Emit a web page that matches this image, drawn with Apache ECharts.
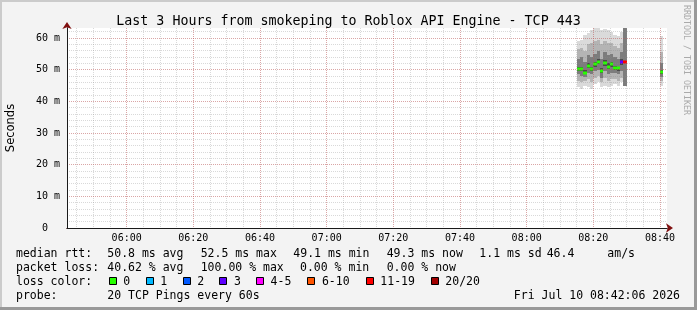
<!DOCTYPE html>
<html><head><meta charset="utf-8">
<script src="https://cdn.jsdelivr.net/npm/echarts@6/dist/echarts.min.js"></script>
<style>html,body{margin:0;padding:0;background:#f3f3f3}#c{width:697px;height:310px}</style>
</head><body><div id="c"></div>
<script>
// ---------- data (minutes of the day, milliseconds) ----------
const startMinute = 342.1;   // 05:42:06
const endMinute = 522.1;     // 08:42:06
const xTickLabels = ['06:00','06:20','06:40','07:00','07:20','07:40','08:00','08:20','08:40'];
const xFirstTick = 360;
const yMax = 63.16;
const yTickLabels = ['0\u00a0\u00a0','10 m','20 m','30 m','40 m','50 m','60 m'];

// one 60 s step each, start minute of the step
const sampleStart = [495,496,497,498,499,500,501,502,503,504,505,506,507,508,509,510,511,512,513,514,515,516,517,518,519,520];
const median   = [50.3,50.3,49.1,51.2,50.3,51.8,52.5,49.7,52.0,51.0,51.7,50.4,50.4,52.5,52.5,null,null,null,null,null,null,null,null,null,null,49.3];
const lossCount= [0,0,0,0,0,0,0,0,0,0,0,0,0,3,15,20,20,20,20,20,20,20,20,20,20,0];
const pingMin  = [44.5,44.0,45.0,44.5,44.0,45.5,46.0,44.5,45.0,44.5,45.0,45.5,45.0,46.0,45.0,null,null,null,null,null,null,null,null,null,null,45.0];
const ping10   = [46.5,46.0,46.5,47.0,46.0,47.5,48.0,46.0,47.5,46.5,47.0,47.0,46.5,47.5,45.0,null,null,null,null,null,null,null,null,null,null,46.5];
const ping25   = [48.5,48.0,47.8,49.0,48.5,49.5,50.0,47.5,49.5,48.5,49.0,48.8,48.5,49.5,45.0,null,null,null,null,null,null,null,null,null,null,47.8];
const ping40   = [49.7,49.6,48.6,50.5,49.6,51.0,51.8,48.8,51.2,50.2,50.8,49.8,49.6,51.5,null,null,null,null,null,null,null,null,null,null,null,48.7];
const ping60   = [51.0,51.0,49.8,52.0,51.0,52.5,53.5,50.5,53.0,52.0,52.5,51.2,51.0,53.5,null,null,null,null,null,null,null,null,null,null,null,50.0];
const ping75   = [53.5,54.0,52.5,54.5,54.0,55.0,56.0,53.5,55.5,54.5,55.0,54.0,53.5,55.5,70.0,null,null,null,null,null,null,null,null,null,null,52.0];
const ping90   = [56.5,57.0,56.0,58.0,58.5,59.0,59.5,58.0,59.0,58.5,58.5,57.5,57.0,58.5,70.0,null,null,null,null,null,null,null,null,null,null,55.5];
const pingMax  = [59.0,59.5,61.0,61.5,62.5,64.0,63.5,62.5,63.0,62.5,62.0,61.0,60.5,62.0,70.0,null,null,null,null,null,null,null,null,null,null,60.5];

// legend texts
const rowLabels = ['median rtt:','packet loss:','loss color:','probe:'];
const rttStats = ['50.8 ms avg','52.5 ms max','49.1 ms min','49.3 ms now','1.1 ms sd','46.4','am/s'];
const lossStats = ['40.62 % avg','100.00 % max','0.00 % min','0.00 % now'];
const lossNames = ['0','1','2','3','4-5','6-10','11-19','20/20'];
const lossUpper = [0,1,2,3,5,10,19,20];
const lossColors = ['#26ff00','#00b8ff','#0059ff','#5e00ff','#ff00ff','#ff5500','#ff0000','#a10000'];
const probeText = '20 TCP Pings every 60s';
const stampText = 'Fri Jul 10 08:42:06 2026';
const titleText = 'Last 3 Hours from smokeping to Roblox API Engine - TCP 443';

// ---------- chart ----------
function lossColor(n){ for (let i=0;i<lossUpper.length;i++) if (n<=lossUpper[i]) return lossColors[i]; return lossColors[lossColors.length-1]; }
const smokeColors = ['#dadada','#b4b4b4','#7c7c7c','#4a4a4a'];
const rows = sampleStart.map((t,i)=>[t,pingMin[i],ping10[i],ping25[i],ping40[i],ping60[i],ping75[i],ping90[i],pingMax[i],median[i],lossCount[i]]);

const MONO = 'DejaVu Sans Mono';
const FS = 11.5;
const gridMinor = 'rgba(140,140,140,0.33)';
const gridMajor = 'rgba(220,60,60,0.32)';

const graphics = [];
graphics.push({type:'rect',shape:{x:0,y:0,width:697,height:2},style:{fill:'#cbcbcb'},silent:true});
graphics.push({type:'rect',shape:{x:0,y:0,width:2,height:310},style:{fill:'#cbcbcb'},silent:true});
graphics.push({type:'rect',shape:{x:694,y:0,width:3,height:310},style:{fill:'#999999'},silent:true});
graphics.push({type:'rect',shape:{x:0,y:307,width:697,height:3},style:{fill:'#999999'},silent:true});
graphics.push({type:'text',x:686,y:5,rotation:-Math.PI/2,style:{text:'RRDTOOL / TOBI OETIKER',font:'8.3px '+MONO,fill:'#aaaaaa',align:'left',verticalAlign:'middle'},silent:true});
function txt(s,x,y,align){ graphics.push({type:'text',x:x,y:y,style:{text:s,font:FS+'px '+MONO,fill:'#000',align:align||'left',verticalAlign:'middle'},silent:true}); }
const rowY = [254.3,268.3,282.3,295.7];
rowLabels.forEach((s,i)=>txt(s,16,rowY[i]));
const rttX = [107.3,200.7,293.3,386.7,479.3,546.7,607.3];
rttStats.forEach((s,i)=>txt(s,rttX[i],rowY[0]));
const lossX = [107.3,200.7,300,386.7];
lossStats.forEach((s,i)=>txt(s,lossX[i],rowY[1]));
const boxX = [108.7,145.7,182.7,219.3,256,307.3,365.7,430.7];
lossNames.forEach((s,i)=>{
  graphics.push({type:'rect',shape:{x:Math.round(boxX[i])+0.5,y:277.5,width:7,height:7},style:{fill:lossColors[i],stroke:'#000',lineWidth:1},silent:true});
  txt(s,boxX[i]+14.6,rowY[2]);
});
txt(probeText,107.3,rowY[3]);
txt(stampText,680,rowY[3],'right');

const chart = echarts.init(document.getElementById('c'),null,{renderer:'canvas'});
chart.setOption({
  animation:false,
  backgroundColor:'#f3f3f3',
  title:{text:titleText,left:'center',top:10,textStyle:{fontFamily:MONO,fontSize:13.3,fontWeight:'normal',color:'#000'}},
  grid:{left:67,top:28,width:600,height:200,show:true,backgroundColor:'#ffffff',borderWidth:0,containLabel:false,outerBoundsMode:'none'},
  xAxis:[{
    type:'value',min:startMinute,max:endMinute,splitNumber:9,minInterval:20,maxInterval:20,position:'bottom',z:4,
    axisLine:{show:true,onZero:false,lineStyle:{color:'#1a1a1a',width:1}},
    axisTick:{show:false},
    axisLabel:{show:true,interval:0,showMinLabel:false,showMaxLabel:false,margin:5,color:'#000',fontFamily:MONO,fontSize:10,
      formatter:v=>{const k=Math.round((v-xFirstTick)/20);return xTickLabels[k]||'';}},
    splitLine:{show:true,showMinLine:false,showMaxLine:false,lineStyle:{color:gridMajor,width:1,type:[1,1]}}
  },{
    type:'value',min:startMinute,max:endMinute,splitNumber:36,minInterval:5,maxInterval:5,position:'bottom',z:3,
    axisLine:{show:true,onZero:false,symbol:['none','arrow'],symbolSize:[7,7],symbolOffset:[0,6],lineStyle:{color:'#801010',width:1}},
    axisTick:{show:false},axisLabel:{show:false},
    splitLine:{show:true,showMinLine:false,showMaxLine:false,lineStyle:{color:gridMinor,width:1,type:[1,1]}}
  }],
  yAxis:[{
    type:'value',min:0,max:yMax,interval:10,position:'left',z:4,
    name:'Seconds',nameLocation:'middle',nameGap:50,nameRotate:90,nameMoveOverlap:false,
    nameTextStyle:{fontFamily:'DejaVu Sans',fontSize:11.5,color:'#000'},
    axisLine:{show:true,onZero:false,lineStyle:{color:'#1a1a1a',width:1}},
    axisTick:{show:false},
    axisLabel:{show:true,showMaxLabel:false,margin:7,color:'#000',fontFamily:MONO,fontSize:10,
      formatter:v=>{const k=Math.round(v/10);return (Math.abs(v-k*10)<1e-6)?(yTickLabels[k]||''):'';}},
    splitLine:{show:true,showMinLine:false,showMaxLine:false,lineStyle:{color:gridMajor,width:1,type:[1,1]}}
  },{
    type:'value',min:0,max:yMax,interval:2,position:'left',z:3,
    axisLine:{show:true,onZero:false,symbol:['none','arrow'],symbolSize:[7,7],symbolOffset:[0,6],lineStyle:{color:'#801010',width:1}},
    axisTick:{show:false},axisLabel:{show:false},
    splitLine:{show:true,showMinLine:false,showMaxLine:false,lineStyle:{color:gridMinor,width:1,type:[1,1]}}
  }],
  graphic:graphics,
  series:[{
    type:'custom',xAxisIndex:0,yAxisIndex:0,z:2,
    encode:{x:0,y:9},
    data:rows,
    renderItem:function(params,api){
      const cs = params.coordSys;
      const area = {x:cs.x,y:cs.y,width:cs.width,height:cs.height};
      const t = api.value(0);
      const children = [];
      const bands = [[1,8],[2,7],[3,6],[4,5]];
      bands.forEach((b,bi)=>{
        const lo = api.value(b[0]), hi = api.value(b[1]);
        if (lo==null||hi==null||isNaN(lo)||isNaN(hi)) return;
        const p1 = api.coord([t,hi]), p2 = api.coord([t+1,lo]);
        const x1=Math.round(p1[0]), x2=Math.round(p2[0]), y1=Math.round(p1[1]), y2=Math.round(p2[1]);
        const r = echarts.graphic.clipRectByRect({x:x1,y:y1,width:x2-x1,height:y2-y1},area);
        if (r) children.push({type:'rect',shape:r,style:{fill:smokeColors[bi]}});
      });
      const m = api.value(9);
      if (m!=null && !isNaN(m)) {
        const a = api.coord([t,m]), c = api.coord([t+1,m]);
        const x1=Math.round(a[0]), x2=Math.round(c[0]);
        children.push({type:'rect',shape:{x:x1,y:Math.round(a[1])-1.5,width:x2-x1,height:3},style:{fill:lossColor(api.value(10))}});
      }
      return {type:'group',children:children};
    }
  }]
});
</script></body></html>
